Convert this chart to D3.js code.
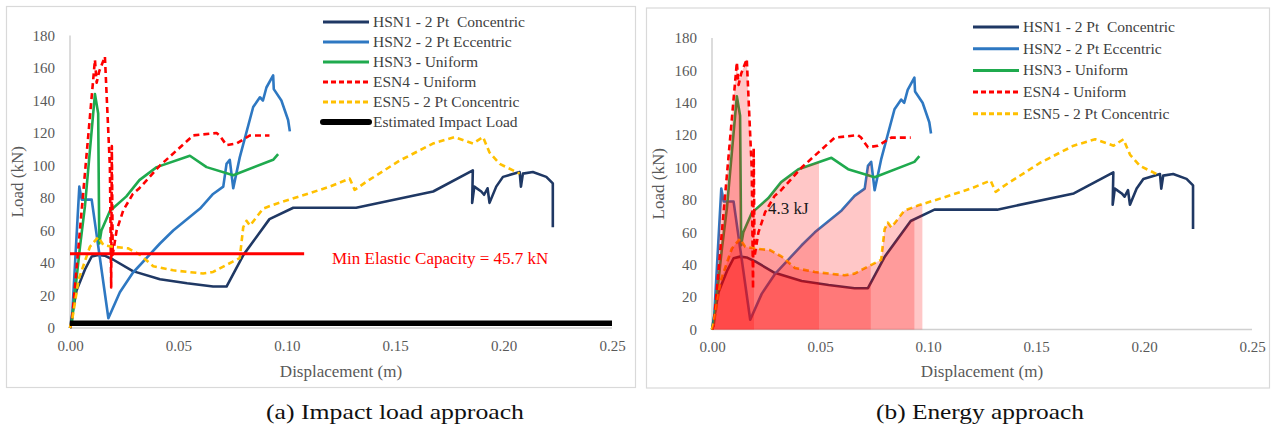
<!DOCTYPE html>
<html><head><meta charset="utf-8">
<script src="https://cdnjs.cloudflare.com/ajax/libs/d3/7.8.5/d3.min.js"></script>
<style>
body{margin:0;background:#fff;}
svg{display:block;font-family:"Liberation Serif","Times New Roman",serif;}
</style>
</head><body>
<svg id="chart" width="1275" height="430"></svg>
<script>
// ---------- data ----------
const seriesNames = ["HSN1 - 2 Pt  Concentric","HSN2 - 2 Pt Eccentric","HSN3 - Uniform","ESN4 - Uniform","ESN5 - 2 Pt Concentric"];
const hsn1 = [[0,0],[0.001,8],[0.003,23],[0.0069,36],[0.01,44],[0.013,45],[0.016,44.5],[0.02,42],[0.029,35],[0.0415,30],[0.054,27.5],[0.066,25.5],[0.0722,25.5],[0.08,45],[0.092,67],[0.103,74],[0.132,74],[0.1675,84],[0.1858,97],[0.1855,77],[0.1865,87],[0.1897,84],[0.191,82],[0.1926,86],[0.1935,77],[0.1966,87],[0.1997,93],[0.2074,96],[0.208,87],[0.2089,95],[0.2135,96],[0.2197,93],[0.2227,89],[0.2227,62]];
const hsn2 = [[0,0],[0.0008,3],[0.0043,87],[0.0054,79],[0.01,79],[0.0177,6],[0.023,22],[0.029,34],[0.0415,52],[0.0476,60],[0.06,73.5],[0.066,82.5],[0.0707,87],[0.0722,101],[0.0737,103.5],[0.0753,86],[0.0783,105],[0.0845,136],[0.0876,142],[0.089,140],[0.0906,148],[0.0937,155.5],[0.094,147],[0.0975,140],[0.1006,128],[0.1014,121]];
const hsn3 = [[0,0],[0.0008,3],[0.0046,50],[0.0069,75],[0.0115,144],[0.013,132],[0.0135,52],[0.0145,60],[0.0184,72],[0.026,81],[0.032,91],[0.04,99],[0.0553,106],[0.063,99],[0.0753,94],[0.0937,103.5],[0.096,107]];
const esn4 = [[0,0],[0.0008,3],[0.0115,165],[0.0123,151],[0.0135,158],[0.0161,167],[0.0184,99],[0.019,25],[0.0193,112],[0.0197,45],[0.0215,60],[0.0246,72.5],[0.029,82.5],[0.032,86],[0.0415,100],[0.0568,118.5],[0.0676,120],[0.069,118.5],[0.0722,112.5],[0.0768,113.5],[0.083,118.5],[0.092,118.5]];
const esn5 = [[0,0],[0.001,5],[0.004,30],[0.0092,50],[0.013,56],[0.0154,51],[0.02,50],[0.0269,49],[0.0323,45],[0.0384,38],[0.0476,35.5],[0.0614,33.5],[0.066,34.5],[0.0753,41],[0.0783,43],[0.0799,62],[0.0814,66],[0.083,63],[0.0891,73.5],[0.0952,76.5],[0.106,81],[0.1198,87],[0.129,92],[0.1313,85],[0.1367,90],[0.152,103],[0.1674,113.5],[0.1774,117.5],[0.1859,113.5],[0.1905,117.5],[0.1935,108],[0.1982,101],[0.2074,95]];
const impactLoad = [[0,3],[0.25,3]];
const minElastic = [[0,45.7],[0.108,45.7]];
const energyLimits = [0.0937,0.0735,0.0495,0.0195,0.0974]; // displacement at 4.3 kJ per series
const xTicks = [0,0.05,0.10,0.15,0.20,0.25];
const yTicks = [0,20,40,60,80,100,120,140,160,180];
const captions = ["(a) Impact load approach","(b) Energy approach"];

const allSeries = [hsn1,hsn2,hsn3,esn4,esn5];
const colors = ["#1F3864","#2E78C2","#1FAA4E","#FF0000","#FFC000"];
const dashes = [null,null,null,"6,4","6,4"];
const FONT = '"Liberation Serif","Times New Roman",serif';

const svg = d3.select("#chart");
svg.append("rect").attr("width",1275).attr("height",430).attr("fill","#fff");

function panel(o){
  const g = svg.append("g");
  g.append("rect").attr("x",o.box[0]).attr("y",o.box[1]).attr("width",o.box[2]).attr("height",o.box[3])
    .attr("fill","#fff").attr("stroke","#d9d9d9").attr("stroke-width",1.2);
  const x = d3.scaleLinear().domain([0,0.25]).range(o.xr);
  const y = d3.scaleLinear().domain([0,180]).range(o.yr);
  g.append("line").attr("x1",x(0)).attr("x2",x(0)).attr("y1",y(0)).attr("y2",y(180)).attr("stroke","#d0d0d0").attr("stroke-width",1.5);
  g.append("line").attr("x1",x(0)).attr("x2",x(0.25)).attr("y1",y(0)).attr("y2",y(0)).attr("stroke","#d0d0d0").attr("stroke-width",1.5);
  const yAx = g.append("g").attr("transform",`translate(${x(0)},0)`).call(d3.axisLeft(y).tickValues(yTicks).tickSize(0).tickPadding(15).tickFormat(d3.format("d")));
  const xAx = g.append("g").attr("transform",`translate(0,${y(0)})`).call(d3.axisBottom(x).tickValues(xTicks).tickSize(0).tickPadding(12).tickFormat(d3.format(".2f")));
  [yAx,xAx].forEach(a=>{a.attr("font-family",FONT);a.select(".domain").remove();a.selectAll("text").attr("fill","#595959").style("font-size","15px").style("font-family",FONT);});
  g.append("text").attr("x",(x(0)+x(0.25))/2).attr("y",o.xTitleY).attr("text-anchor","middle").attr("fill","#595959").style("font-size","17px").text("Displacement (m)");
  g.append("text").attr("transform",`translate(${o.yTitleX},${(y(0)+y(180))/2}) rotate(-90)`).attr("text-anchor","middle").attr("fill","#595959").style("font-size","17px").text("Load (kN)");

  const line = d3.line().x(d=>x(d[0])).y(d=>y(d[1]));
  allSeries.forEach((s,i)=>{
    g.append("path").attr("d",line(s)).attr("fill","none").attr("stroke",colors[i]).attr("stroke-width",2.6)
      .attr("stroke-dasharray",dashes[i]).attr("stroke-linejoin","round");
  });
  return {g,x,y,line};
}

// ---------- panel (a) ----------
const A = panel({box:[6.5,6.5,629,381],xr:[70,612],yr:[328,35.5],xTitleY:377,yTitleX:23});
A.g.append("path").attr("d",A.line(impactLoad)).attr("stroke","#000").attr("stroke-width",5.5).attr("fill","none");
A.g.append("path").attr("d",A.line(minElastic)).attr("stroke","#FF0000").attr("stroke-width",3).attr("fill","none");
A.g.append("text").attr("x",332).attr("y",264).attr("fill","#FF0000").style("font-size","17px").text("Min Elastic Capacity = 45.7 kN");

// ---------- panel (b) ----------
const B = panel({box:[646.5,8,623,380],xr:[712,1252],yr:[329.5,38],xTitleY:377,yTitleX:664});
const area = d3.area().x(d=>B.x(d[0])).y0(B.y(0)).y1(d=>B.y(d[1]));
const defs = svg.append("defs");
allSeries.forEach((s,i)=>{
  const id = "clip"+i;
  defs.append("clipPath").attr("id",id).append("rect")
    .attr("x",B.x(0)).attr("y",0).attr("width",B.x(energyLimits[i])-B.x(0)).attr("height",430);
  B.g.append("path").attr("d",area(s)).attr("fill","#FF0000").attr("fill-opacity",0.22).attr("clip-path",`url(#${id})`);
});
B.g.append("text").attr("x",768).attr("y",214).attr("fill","#1a1a1a").style("font-size","17px").text("4.3 kJ");

// ---------- legends ----------
function legend(x0,y0,step,withImpact){
  const items = seriesNames.map((n,i)=>({n,c:colors[i],d:dashes[i],w:3}));
  if(withImpact) items.push({n:"Estimated Impact Load",c:"#000",d:null,w:6});
  const lg = svg.append("g");
  items.forEach((it,i)=>{
    const yy = y0+i*step;
    lg.append("line").attr("x1",x0).attr("x2",x0+46).attr("y1",yy).attr("y2",yy).attr("stroke",it.c)
      .attr("stroke-width",it.w).attr("stroke-dasharray",it.d?"5,3":null).attr("stroke-linecap",it.w>4?"round":"butt");
    lg.append("text").attr("x",x0+50).attr("y",yy+5).attr("fill","#404040").attr("xml:space","preserve").style("font-size","15.5px").text(it.n);
  });
}
legend(323,22,20,true);
legend(973,27,21.7,false);

// ---------- captions ----------
svg.append("text").attr("x",395).attr("y",419).attr("text-anchor","middle").attr("fill","#111").style("font-size","21px")
  .attr("textLength",258).attr("lengthAdjust","spacingAndGlyphs").text(captions[0]);
svg.append("text").attr("x",980).attr("y",419).attr("text-anchor","middle").attr("fill","#111").style("font-size","21px")
  .attr("textLength",208).attr("lengthAdjust","spacingAndGlyphs").text(captions[1]);
</script>
</body></html>
